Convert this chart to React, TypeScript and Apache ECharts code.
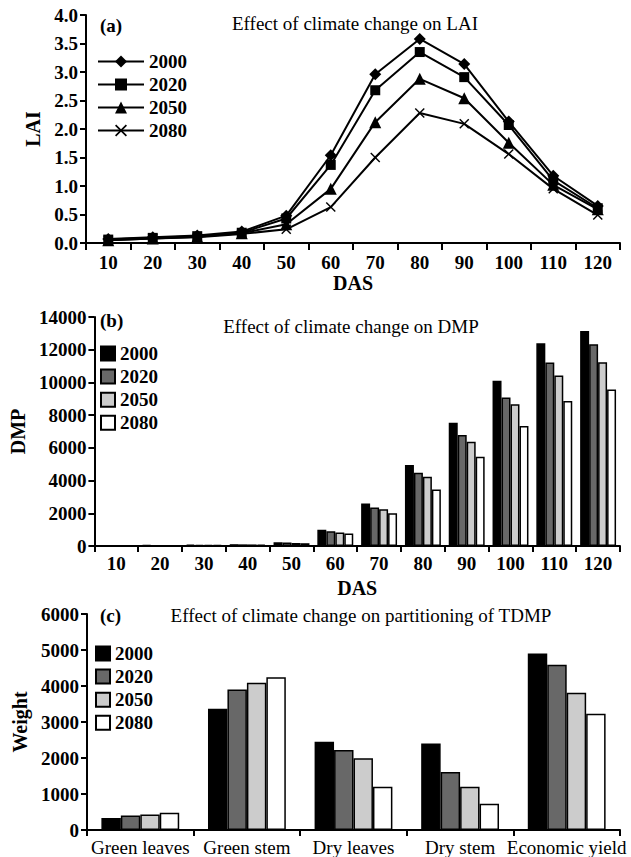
import React, { useEffect, useRef } from "react";
import * as echarts from "echarts";

const DAS = ["10", "20", "30", "40", "50", "60", "70", "80", "90", "100", "110", "120"];
const YEARS = ["2000", "2020", "2050", "2080"];

const lai2000 = [0.07, 0.1, 0.13, 0.2, 0.48, 1.54, 2.96, 3.58, 3.14, 2.13, 1.18, 0.65];
const lai2020 = [0.06, 0.09, 0.12, 0.18, 0.43, 1.37, 2.68, 3.35, 2.91, 2.07, 1.1, 0.61];
const lai2050 = [0.05, 0.08, 0.11, 0.17, 0.33, 0.95, 2.12, 2.88, 2.54, 1.76, 1.02, 0.59];
const lai2080 = [0.05, 0.08, 0.1, 0.16, 0.24, 0.63, 1.5, 2.28, 2.09, 1.56, 0.95, 0.49];

const dmp2000 = [40, 50, 80, 110, 230, 1000, 2600, 4950, 7530, 10100, 12400, 13150];
const dmp2020 = [40, 45, 75, 100, 210, 900, 2360, 4480, 6780, 9080, 11220, 12330];
const dmp2050 = [35, 40, 70, 95, 190, 830, 2240, 4230, 6370, 8670, 10420, 11240];
const dmp2080 = [30, 40, 65, 90, 170, 770, 2000, 3460, 5450, 7330, 8870, 9570];

const PARTS = ["Green leaves", "Green stem", "Dry leaves", "Dry stem", "Economic yield"];
const tdmp2000 = [330, 3370, 2450, 2400, 4900];
const tdmp2020 = [400, 3900, 2220, 1610, 4590];
const tdmp2050 = [430, 4090, 1990, 1200, 3810];
const tdmp2080 = [480, 4240, 1200, 730, 3230];

const FONT = "'Liberation Serif', 'Times New Roman', serif";
const X_SYMBOL = "path://M0,1 L1,0 L5,4 L9,0 L10,1 L6,5 L10,9 L9,10 L5,6 L1,10 L0,9 L4,5 Z";
const BAR_COLORS = ["#000000", "#686868", "#cccccc", "#ffffff"];

export default function App() {
  const ref = useRef<HTMLDivElement>(null);
  useEffect(() => {
    if (!ref.current) return;
    const chart = echarts.init(ref.current, undefined, { renderer: "svg" });
    const axisLine = { show: true, lineStyle: { color: "#000000", width: 2 } };
    const axisTick = { show: true, length: 6, lineStyle: { color: "#000000", width: 2 } };
    const tickLabel = { color: "#000000", fontFamily: FONT, fontWeight: "bold" as const, fontSize: 19 };
    const axisName = { color: "#000000", fontFamily: FONT, fontWeight: "bold" as const, fontSize: 20 };
    const laiSets = [lai2000, lai2020, lai2050, lai2080];
    const dmpSets = [dmp2000, dmp2020, dmp2050, dmp2080];
    const tdmpSets = [tdmp2000, tdmp2020, tdmp2050, tdmp2080];
    const symbols = ["diamond", "rect", "triangle", X_SYMBOL];
    const symbolSizes = [12, 10, 12, 10];

    const grids = [
      { left: 86, right: 11, top: 15, height: 228 },
      { left: 86, right: 11, top: 317, height: 229 },
      { left: 87, right: 11, top: 614, height: 217 },
    ];

    const series: any[] = [];
    YEARS.forEach((y, i) => {
      series.push({
        type: "line",
        name: "a" + y,
        xAxisIndex: 0,
        yAxisIndex: 0,
        data: laiSets[i],
        symbol: symbols[i],
        symbolSize: symbolSizes[i],
        showAllSymbol: true,
        lineStyle: { color: "#000", width: 2 },
        itemStyle: { color: "#000" },
      });
    });
    YEARS.forEach((y, i) => {
      series.push({
        type: "bar",
        name: "b" + y,
        xAxisIndex: 1,
        yAxisIndex: 1,
        data: dmpSets[i],
        barGap: "0%",
        barCategoryGap: "18%",
        itemStyle: { color: BAR_COLORS[i], borderColor: "#000", borderWidth: 1.5 },
      });
    });
    YEARS.forEach((y, i) => {
      series.push({
        type: "bar",
        name: "c" + y,
        xAxisIndex: 2,
        yAxisIndex: 2,
        data: tdmpSets[i],
        barGap: "0%",
        barCategoryGap: "27%",
        itemStyle: { color: BAR_COLORS[i], borderColor: "#000", borderWidth: 1.5 },
      });
    });

    const legendText = { color: "#000000", fontFamily: FONT, fontWeight: "bold" as const, fontSize: 19 };
    const fmt = (n: string) => n.slice(1);

    const titleStyle = (text: string, x: number, y: number) => ({
      type: "text",
      x,
      y,
      style: {
        text,
        fill: "#000",
        font: `19px ${FONT}`,
        align: "center",
        verticalAlign: "middle",
        textAlign: "center",
        textVerticalAlign: "middle",
      },
    });
    const panelLabel = (text: string, x: number, y: number) => ({
      type: "text",
      x,
      y,
      style: {
        text,
        fill: "#000",
        font: `bold 19px ${FONT}`,
        align: "left",
        verticalAlign: "middle",
        textAlign: "left",
        textVerticalAlign: "middle",
      },
    });

    chart.setOption({
      animation: false,
      backgroundColor: "#fff",
      grid: grids,
      legend: [
        {
          orient: "vertical",
          left: 92,
          top: 47,
          padding: 5,
          itemWidth: 46,
          itemHeight: 15,
          itemGap: 4,
          data: YEARS.map((y) => "a" + y),
          formatter: fmt,
          textStyle: legendText,
          selectedMode: false,
        },
        {
          orient: "vertical",
          left: 95,
          top: 339,
          padding: 5,
          itemWidth: 14,
          itemHeight: 14,
          itemGap: 4.1,
          icon: "rect",
          data: YEARS.map((y) => "b" + y),
          formatter: fmt,
          textStyle: legendText,
          selectedMode: false,
        },
        {
          orient: "vertical",
          left: 90,
          top: 639,
          padding: 5,
          itemWidth: 14,
          itemHeight: 14,
          itemGap: 4.1,
          icon: "rect",
          data: YEARS.map((y) => "c" + y),
          formatter: fmt,
          textStyle: legendText,
          selectedMode: false,
        },
      ],
      xAxis: [
        {
          type: "category",
          gridIndex: 0,
          data: DAS,
          axisLine,
          axisTick: { ...axisTick, length: 7 },
          axisLabel: { ...tickLabel, margin: 10 },
          name: "DAS",
          nameLocation: "middle",
          nameGap: 30,
          nameTextStyle: axisName,
          splitLine: { show: false },
        },
        {
          type: "category",
          gridIndex: 1,
          data: DAS,
          axisLine,
          axisTick,
          axisLabel: { ...tickLabel, margin: 8 },
          name: "DAS",
          nameLocation: "middle",
          nameGap: 32,
          nameTextStyle: axisName,
          splitLine: { show: false },
        },
        {
          type: "category",
          gridIndex: 2,
          data: PARTS,
          axisLine,
          axisTick,
          axisLabel: { color: "#000000", fontFamily: FONT, fontSize: 19, margin: 8, interval: 0 },
          splitLine: { show: false },
        },
      ],
      yAxis: [
        {
          type: "value",
          gridIndex: 0,
          min: 0,
          max: 4,
          interval: 0.5,
          axisLine,
          axisTick,
          axisLabel: { ...tickLabel, margin: 8, formatter: (v: number) => v.toFixed(1) },
          splitLine: { show: false },
          name: "LAI",
          nameLocation: "middle",
          nameGap: 36,
          nameRotate: 90,
          nameTextStyle: axisName,
        },
        {
          type: "value",
          gridIndex: 1,
          min: 0,
          max: 14000,
          interval: 2000,
          axisLine,
          axisTick,
          axisLabel: { ...tickLabel, margin: 8, formatter: (v: number) => String(v) },
          splitLine: { show: false },
          name: "DMP",
          nameLocation: "middle",
          nameGap: 56,
          nameRotate: 90,
          nameTextStyle: axisName,
        },
        {
          type: "value",
          gridIndex: 2,
          min: 0,
          max: 6000,
          interval: 1000,
          axisLine,
          axisTick,
          axisLabel: { ...tickLabel, margin: 8, formatter: (v: number) => String(v) },
          splitLine: { show: false },
          name: "Weight",
          nameLocation: "middle",
          nameGap: 57,
          nameRotate: 90,
          nameTextStyle: axisName,
        },
      ],
      graphic: [
        titleStyle("Effect of climate change on LAI", 355, 23),
        titleStyle("Effect of climate change on DMP", 351, 326),
        titleStyle("Effect of climate change on partitioning of TDMP", 361, 615),
        panelLabel("(a)", 100, 25),
        panelLabel("(b)", 100, 320),
        panelLabel("(c)", 100, 615),
      ],
      series,
    });
    return () => chart.dispose();
  }, []);
  return (
    <div
      ref={ref}
      style={{ position: "absolute", left: 0, top: 0, width: 631, height: 857, background: "#fff" }}
    />
  );
}
